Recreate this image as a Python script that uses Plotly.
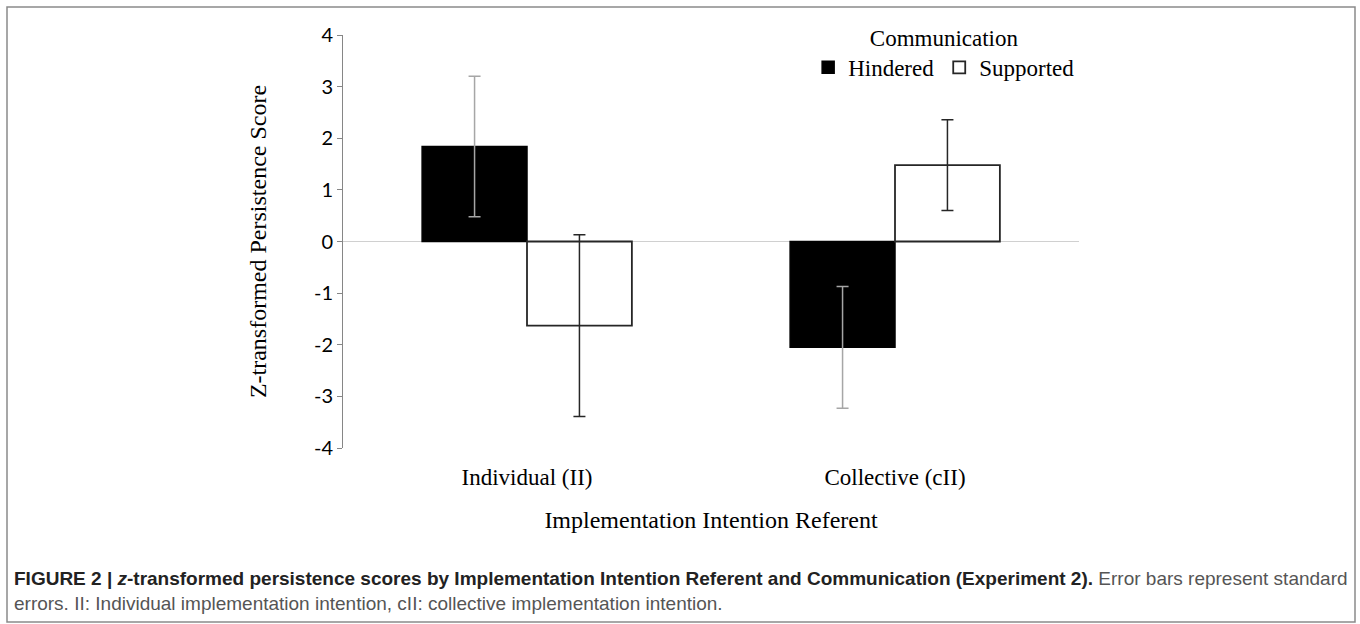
import plotly.graph_objects as go

categories = ["Individual (II)", "Collective (cII)"]
hindered = [1.84, -2.05]
hindered_se = [1.36, 1.18]
supported = [-1.63, 1.48]
supported_se = [1.76, 0.88]
y_ticks = [-4, -3, -2, -1, 0, 1, 2, 3, 4]

serif = "Liberation Serif, Times New Roman, serif"
sans = "Lato, Carlito, Calibri, sans-serif"

fig = go.Figure()
fig.add_trace(go.Bar(
    name="Hindered", x=categories, y=hindered,
    marker=dict(color="#000000", line=dict(color="#000000", width=1.5)),
    error_y=dict(type="data", array=hindered_se, color="#a6a6a6", thickness=1.5, width=6),
))
fig.add_trace(go.Bar(
    name="Supported", x=categories, y=supported,
    marker=dict(color="#ffffff", line=dict(color="#262626", width=1.8)),
    error_y=dict(type="data", array=supported_se, color="#262626", thickness=1.5, width=6),
))

fig.update_layout(
    width=1360, height=624,
    margin=dict(l=343, r=281, t=35, b=176, autoexpand=False),
    paper_bgcolor="white", plot_bgcolor="white",
    barmode="group", bargap=0.43, bargroupgap=0,
    font=dict(family=serif, color="#000000", size=23),
    showlegend=True,
    legend=dict(
        orientation="h", x=0.632, xanchor="left", y=1.046, yanchor="top",
        bgcolor="rgba(0,0,0,0)",
        font=dict(family=serif, size=23, color="#000000"),
        title=dict(text="Communication", side="top center", font=dict(family=serif, size=23)),
        itemwidth=30, tracegroupgap=0,
    ),
    xaxis=dict(
        type="category", categoryarray=categories, range=[-0.5, 1.5],
        showline=False, showgrid=False, zeroline=False,
        ticks="outside", ticklen=8, tickcolor="rgba(0,0,0,0)",
        tickfont=dict(family=serif, size=23, color="#000000"),
        title=dict(text="Implementation Intention Referent", font=dict(family=serif, size=24), standoff=22),
    ),
    xaxis2=dict(
        overlaying="x", anchor="free", position=0.5, range=[-0.5, 1.5],
        tickvals=[-0.5, 0.5, 1.5], showticklabels=False,
        ticks="outside", ticklen=6, tickcolor="#d0d0d0", tickwidth=1,
        showline=False, showgrid=False, zeroline=False,
    ),
    yaxis=dict(
        range=[-4, 4], tickvals=y_ticks, ticktext=[str(v) for v in y_ticks],
        showline=True, linecolor="#868686", linewidth=1,
        ticks="outside", ticklen=5, tickcolor="#868686", tickwidth=1,
        showgrid=False, zeroline=True, zerolinecolor="#d0d0d0", zerolinewidth=1,
        tickfont=dict(family=sans, size=20, color="#000000"),
        title=dict(text="Z-transformed Persistence Score", font=dict(family=serif, size=24), standoff=40),
    ),
)

# outer figure frame
fig.add_shape(type="rect", xref="paper", yref="paper",
              x0=(7 - 343) / 736, x1=(1355 - 343) / 736,
              y0=(448 - 622) / 413, y1=(448 - 7) / 413,
              line=dict(color="#8a8a8a", width=1.5), fillcolor="rgba(0,0,0,0)", layer="below")

caption = (
    "<b>FIGURE 2 | <i>z</i>-transformed persistence scores by Implementation Intention Referent and "
    "Communication (Experiment 2).</b> <span style='color:#555555'>Error bars represent standard</span><br>"
    "<span style='color:#555555'>errors. II: Individual implementation intention, cII: collective implementation intention.</span>"
)
fig.add_annotation(
    text=caption, xref="paper", yref="paper",
    x=(12 - 343) / 736, y=(448 - 566) / 413, xanchor="left", yanchor="top",
    align="left", showarrow=False,
    font=dict(family="Liberation Sans Narrow, Liberation Sans, Arial, sans-serif", size=19, color="#222222"),
)

fig.write_html("out.html", config={"displayModeBar": False},
               post_script="document.body.style.margin='0';")
